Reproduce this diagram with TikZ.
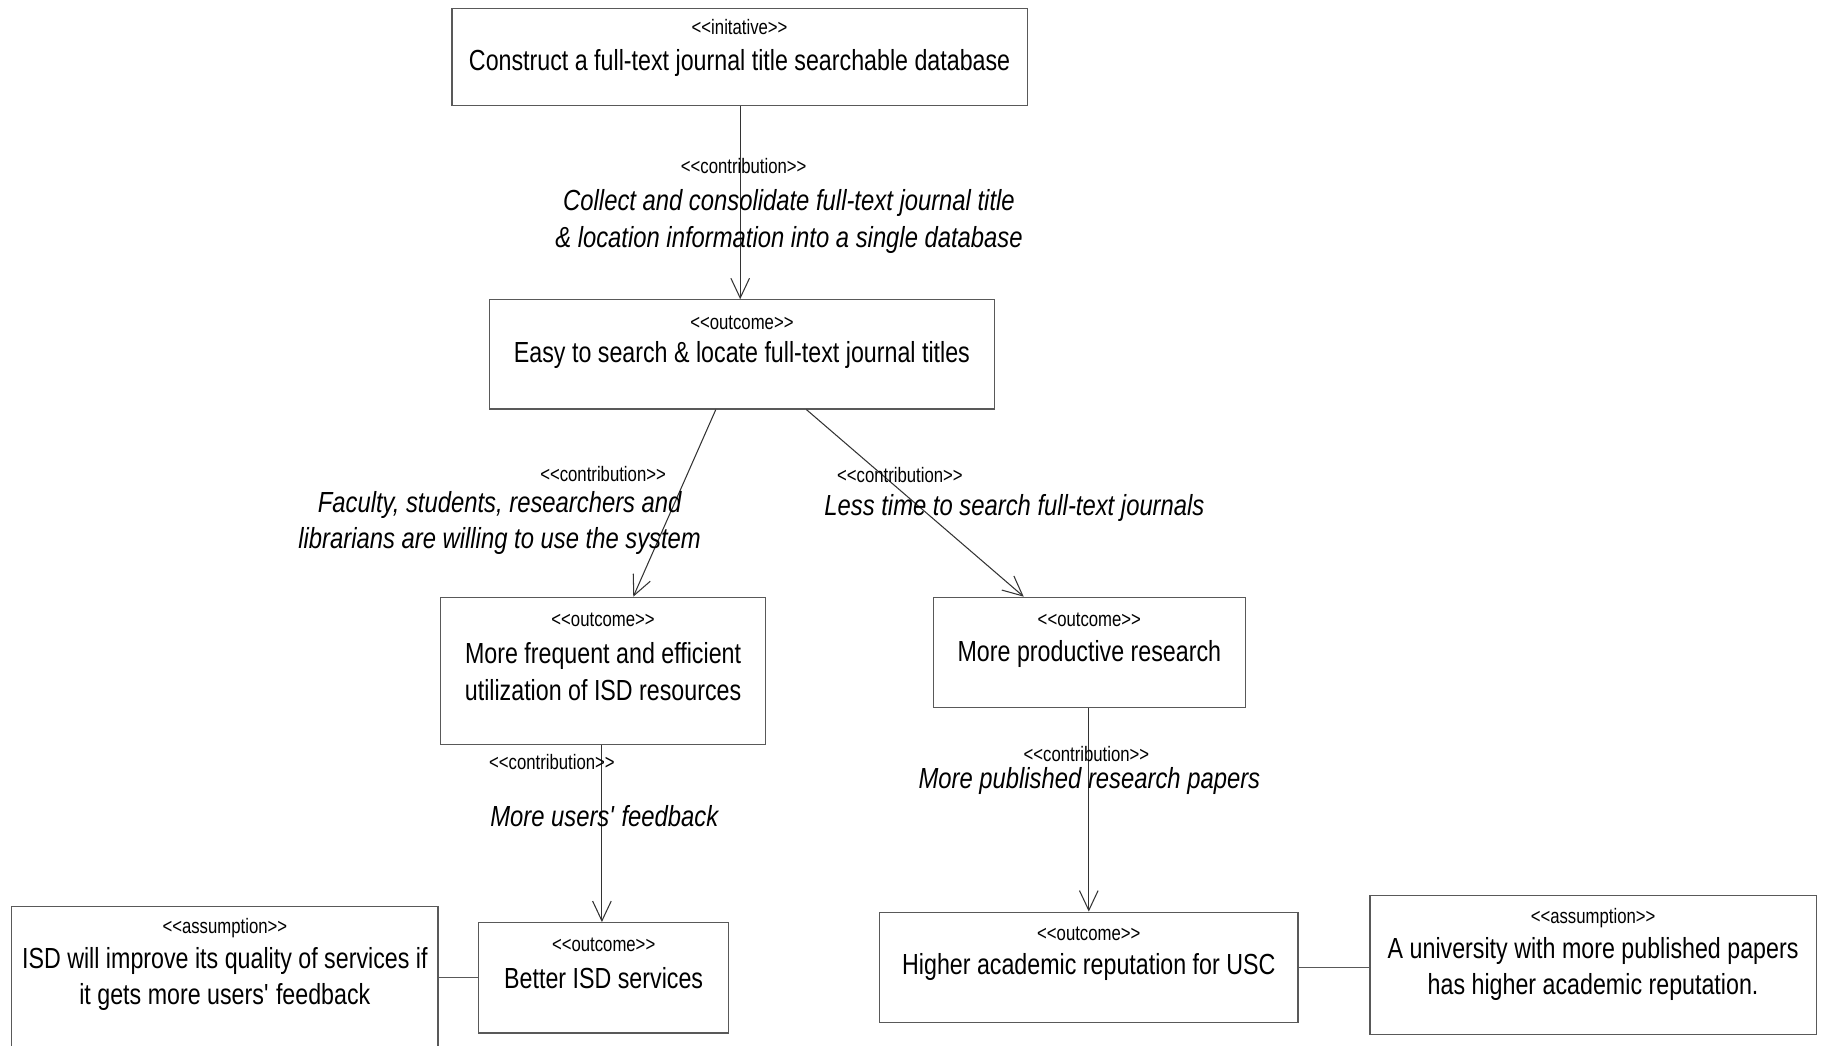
\documentclass[tikz,border=0pt]{standalone}
\usepackage{fontspec}
\setmainfont{Liberation Sans}[FakeStretch=0.8,ItalicFeatures={FakeStretch=0.82}]
\usetikzlibrary{arrows.meta,calc}
\newcommand\stt[1]{<\kern0pt<#1>\kern0pt>}
\begin{document}
\begin{tikzpicture}[x=1pt,y=-1pt,
 box/.style={draw=black!65,line width=1pt,inner sep=0pt},
 stereo/.style={inner sep=0pt,font=\fontsize{18}{20}\selectfont},
 main/.style={inner sep=0pt,align=center,font=\fontsize{25}{31.5}\selectfont},
 lab/.style={inner sep=0pt,align=center,font=\fontsize{25}{31.5}\selectfont\itshape},
 conn/.style={draw=black!80,line width=0.9pt,-{Straight Barb[length=17pt,width=16pt]}},
 link/.style={draw=black!65,line width=1pt}]
\useasboundingbox (0,0) rectangle (1568,900);
\clip (0,0) rectangle (1568,900);
\fill[white] (0,0) rectangle (1568,900);

% boxes
\node[box,minimum width=495pt,minimum height=84pt] (b1) at (636.5,49) {};
\node[stereo] (b1s) at ([yshift=-17pt]b1.north) {\stt{initative}};
\node[main] (b1t) at ([yshift=-47.5pt]b1.north) {Construct a full-text journal title searchable database};

\node[box,minimum width=435pt,minimum height=94pt] (b2) at (638.5,305) {};
\node[stereo] (b2s) at ([yshift=-20pt]b2.north) {\stt{outcome}};
\node[main] (b2t) at ([yshift=-48pt]b2.north) {Easy to search \& locate full-text journal titles};

\node[box,minimum width=280pt,minimum height=127pt] (b3) at (519,577.5) {};
\node[stereo] (b3s) at ([yshift=-20pt]b3.north) {\stt{outcome}};
\node[main] (b3t) at ([yshift=-64.5pt]b3.north) {More frequent and efficient\\utilization of ISD resources};

\node[box,minimum width=269pt,minimum height=95pt] (b4) at (937.5,561.5) {};
\node[stereo] (b4s) at ([yshift=-20pt]b4.north) {\stt{outcome}};
\node[main] (b4t) at ([yshift=-49pt]b4.north) {More productive research};

\node[box,minimum width=215pt,minimum height=95pt] (b5) at (519.5,841.5) {};
\node[stereo] (b5s) at ([yshift=-20pt]b5.north) {\stt{outcome}};
\node[main] (b5t) at ([yshift=-48.5pt]b5.north) {Better ISD services};

\node[box,minimum width=367pt,minimum height=140pt] (b6) at (193.5,850) {};
\node[stereo] (b6s) at ([yshift=-19pt]b6.north) {\stt{assumption}};
\node[main] (b6t) at ([yshift=-63pt]b6.north) {ISD will improve its quality of services if\\it gets more users\textquotesingle\ feedback};

\node[box,minimum width=360pt,minimum height=95pt] (b7) at (937,832.5) {};
\node[stereo] (b7s) at ([yshift=-19pt]b7.north) {\stt{outcome}};
\node[main] (b7t) at ([yshift=-48pt]b7.north) {Higher academic reputation for USC};

\node[box,minimum width=384pt,minimum height=119pt] (b8) at (1371,830.5) {};
\node[stereo] (b8s) at ([yshift=-20pt]b8.north) {\stt{assumption}};
\node[main] (b8t) at ([yshift=-63.5pt]b8.north) {A university with more published papers\\has higher academic reputation.};

% connectors
\draw[conn] ([xshift=0.5pt]b1.south) -- ([xshift=0.5pt]b1.south |- b2.north);
\draw[conn] ([xshift=-22.5pt]b2.south) -- ([xshift=26pt]b3.north);
\draw[conn] ([xshift=55.5pt]b2.south) -- ([xshift=-56.5pt]b4.north);
\draw[conn] ([xshift=-1pt]b3.south) -- ([xshift=-1pt]b3.south |- b5.north);
\draw[conn] ([xshift=-0.5pt]b4.south) -- ([xshift=-0.5pt]b4.south |- b7.north);
\draw[link] (b5.west) -- (b5.west -| b6.east);
\draw[link] (b7.east) -- (b7.east -| b8.west);

% labels
\node[stereo] (l1s) at (640,143) {\stt{contribution}};
\node[lab] (l1t) at (679,190.5) {Collect and consolidate full-text journal title\\\& location information into a single database};
\node[stereo] (l2s) at (519,408) {\stt{contribution}};
\node[lab] (l2t) at (430,450) {Faculty, students, researchers and\\librarians are willing to use the system};
\node[stereo] (l3s) at (774.5,409) {\stt{contribution}};
\node[lab] (l3t) at (873,437.5) {Less time to search full-text journals};
\node[stereo] (l4s) at (475,656) {\stt{contribution}};
\node[lab] (l4t) at (520,702.5) {More users\textquotesingle\ feedback};
\node[stereo] (l5s) at (935,649) {\stt{contribution}};
\node[lab] (l5t) at (937.5,672) {More published research papers};
\end{tikzpicture}
\end{document}
